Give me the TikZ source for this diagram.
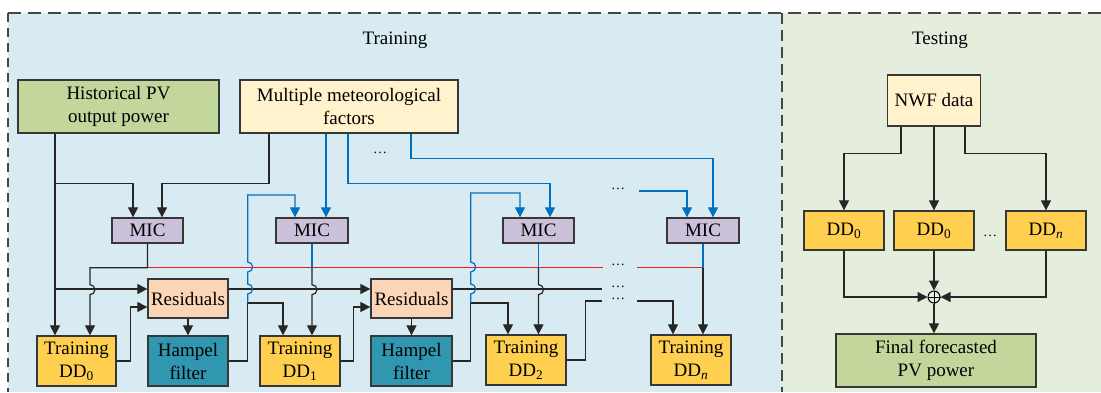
\documentclass[tikz,border=0pt]{standalone}
\usepackage{fontspec}
\setmainfont{Liberation Serif}
\usetikzlibrary{arrows.meta}

\definecolor{trainbg}{RGB}{217,235,242}
\definecolor{testbg}{RGB}{229,237,221}
\definecolor{histgreen}{RGB}{195,214,155}
\definecolor{metyellow}{RGB}{255,242,204}
\definecolor{micpurple}{RGB}{204,193,218}
\definecolor{respeach}{RGB}{251,213,181}
\definecolor{ddyellow}{RGB}{255,208,80}
\definecolor{hampelteal}{RGB}{49,151,177}
\definecolor{flowblue}{RGB}{0,112,192}
\definecolor{edgegray}{RGB}{55,55,55}
\definecolor{frame}{RGB}{70,70,70}
\definecolor{linkred}{RGB}{235,30,30}

\tikzset{
  box/.style={draw=edgegray, line width=1.3pt, inner sep=0pt, align=center,
              font=\fontsize{19}{23}\selectfont},
  con/.style={line width=1.2pt, draw=black!85},
  arr/.style={con, -{Triangle[width=10pt,length=10pt]}},
  blu/.style={draw=flowblue},
  redline/.style={line width=1.3pt, draw=linkred},
  dotsnode/.style={inner sep=0pt, font=\fontsize{14}{14}\selectfont},
  frameline/.style={draw=frame, line width=1.2pt, dash pattern=on 13pt off 7pt},
}
\newcommand{\sub}[1]{\textsubscript{#1}}

\begin{document}
\begin{tikzpicture}[x=1pt,y=1pt]
\useasboundingbox (0,0) rectangle (1101,-392);

% panels
\fill[trainbg] (8,-13) rectangle (782,-392);
\fill[testbg] (782,-13) rectangle (1101,-392);
\draw[frameline] (8,-13) -- (1101,-13);
\draw[frameline, dash pattern=on 9pt off 6pt] (8,-13) -- (8,-392);
\draw[frameline, dash pattern=on 11pt off 6pt] (782,-13) -- (782,-392);

\node[font=\fontsize{19}{23}\selectfont] (trtitle) at (395,-40) {Training};
\node[font=\fontsize{19}{23}\selectfont] (tetitle) at (940,-40) {Testing};

% ---------------- training nodes ----------------
\node[box, fill=histgreen, minimum width=201pt, minimum height=53pt] (hist) at (118.5,-106.5) {Historical PV\\output power};
\node[box, fill=metyellow, minimum width=218pt, minimum height=53pt] (met) at (349,-106.5) {Multiple meteorological\\factors};

\node[box, fill=micpurple, minimum width=71pt, minimum height=25pt] (mic1) at (147.5,-230.5) {MIC};
\node[box, fill=micpurple, minimum width=72pt, minimum height=25pt] (mic2) at (312,-230.5) {MIC};
\node[box, fill=micpurple, minimum width=71pt, minimum height=25pt] (mic3) at (538.5,-230.5) {MIC};
\node[box, fill=micpurple, minimum width=72pt, minimum height=25pt] (mic4) at (703,-230.5) {MIC};

\node[box, fill=respeach, minimum width=80pt, minimum height=39pt] (res1) at (188,-298.5) {Residuals};
\node[box, fill=respeach, minimum width=81pt, minimum height=39pt] (res2) at (411.5,-298.5) {Residuals};

\node[box, fill=ddyellow, minimum width=79pt, minimum height=50pt] (dd0) at (76.5,-361) {Training\\DD\sub{0}};
\node[box, fill=hampelteal, minimum width=80pt, minimum height=50pt] (ham1) at (188,-361) {Hampel\\filter};
\node[box, fill=ddyellow, minimum width=80pt, minimum height=50pt] (dd1) at (300,-361) {Training\\DD\sub{1}};
\node[box, fill=hampelteal, minimum width=81pt, minimum height=50pt] (ham2) at (411.5,-361) {Hampel\\filter};
\node[box, fill=ddyellow, minimum width=80pt, minimum height=50pt] (dd2) at (526,-360) {Training\\DD\sub{2}};
\node[box, fill=ddyellow, minimum width=80pt, minimum height=50pt] (ddn) at (691,-360) {Training\\DD\sub{\itshape n}};

% free ends around the elided stages
\coordinate (resout) at (602,-289);
\coordinate (d2out) at (602,-301);
\coordinate (dnin) at (637,-301);
\coordinate (m4in) at (639,-191);

% ---------------- training connectors ----------------
% historical power feeds
\draw[arr] ([xshift=-63.5pt]hist.south) -- ([xshift=-21.5pt]dd0.north);
\draw[arr] ([xshift=-63.5pt]hist.south) -- ++(0,-50) -| ([xshift=-14.5pt]mic1.north);
\draw[arr] ([xshift=-63.5pt]hist.south) |- ([yshift=9.5pt]res1.west);
% meteorological factors
\draw[arr] ([xshift=-80pt]met.south) -- ++(0,-50) -| ([xshift=14.5pt]mic1.north);
\draw[arr, blu] ([xshift=-23pt]met.south) -- ([xshift=14pt]mic2.north);
\draw[arr, blu] ([xshift=-1pt]met.south) -- ++(0,-50) -| ([xshift=11.5pt]mic3.north);
\draw[arr, blu] ([xshift=62pt]met.south) -- ++(0,-25) -| ([xshift=10pt]mic4.north);
\draw[arr, blu] (m4in) -| ([xshift=-16pt]mic4.north);

% stage 0
\draw[redline] (mic1.south) ++(0,-24) -- ++(455.5,0);
\draw[redline] (mic4.south) ++(0,-24) -- ++(-66,0);
\draw[arr] (mic1.south) -- ++(0,-24) -- ++(-57.5,0) -- ++(0,-17)
  arc[start angle=90, end angle=-90, radius=5pt] -- ([xshift=13.5pt]dd0.north);
\draw[arr] (dd0.east) -- ++(14,0) |- ([yshift=-8.5pt]res1.west);
\draw[arr] (res1.south) -- (ham1.north);
\draw[arr] ([yshift=9.5pt]res1.east) -- ([yshift=9.5pt]res2.west);

% stage 1
\draw[arr] (ham1.east) -- ++(19,0) -- ++(0,58) -| ([xshift=-17pt]dd1.north);
\draw[arr, blu] (ham1.east) ++(19,58) -- ++(0,9)
  arc[start angle=-90, end angle=90, radius=5pt] -- ++(0,12)
  arc[start angle=-90, end angle=90, radius=5pt] -- ++(0,67)
  -| ([xshift=-17pt]mic2.north);
\draw[con, blu] (mic2.south) -- ++(0,-24);
\draw[arr] (mic2.south) ++(0,-24) -- ++(0,-17)
  arc[start angle=90, end angle=-90, radius=5pt] -- ([xshift=12pt]dd1.north);
\draw[arr] (dd1.east) -- ++(13,0) |- ([yshift=-8.5pt]res2.west);
\draw[arr] (res2.south) -- (ham2.north);
\draw[con] ([yshift=9.5pt]res2.east) -- (resout);

% stage 2
\draw[arr] (ham2.east) -- ++(18,0) -- ++(0,58) -| ([xshift=-18pt]dd2.north);
\draw[arr, blu] (ham2.east) ++(18,58) -- ++(0,9)
  arc[start angle=-90, end angle=90, radius=5pt] -- ++(0,12)
  arc[start angle=-90, end angle=90, radius=5pt] -- ++(0,69)
  -| ([xshift=-18.5pt]mic3.north);
\draw[con, blu] (mic3.south) -- ++(0,-24);
\draw[arr] (mic3.south) ++(0,-24) -- ++(0,-17)
  arc[start angle=90, end angle=-90, radius=5pt] -- ([xshift=12.5pt]dd2.north);
\draw[con] (dd2.east) -- ++(19,0) |- (d2out);

% stage n
\draw[con, blu] (mic4.south) -- ++(0,-24);
\draw[arr] (mic4.south) ++(0,-24) -- ([xshift=12pt]ddn.north);
\draw[arr] (dnin) -| ([xshift=-18pt]ddn.north);

% ellipses
\node[dotsnode] (e1) at (380,-153) {\textellipsis};
\node[dotsnode] (e2) at (618,-189) {\textellipsis};
\node[dotsnode] (e3) at (618,-265) {\textellipsis};
\node[dotsnode] (e4) at (618,-287) {\textellipsis};
\node[dotsnode] (e5) at (618,-299) {\textellipsis};

% ---------------- testing ----------------
\node[box, fill=metyellow, minimum width=93pt, minimum height=51pt] (nwf) at (934,-100.5) {NWF data};
\node[box, fill=ddyellow, minimum width=80pt, minimum height=39pt] (t0) at (844,-230.5) {DD\sub{0}};
\node[box, fill=ddyellow, minimum width=80pt, minimum height=39pt] (t1) at (934,-230.5) {DD\sub{0}};
\node[box, fill=ddyellow, minimum width=80pt, minimum height=39pt] (tn) at (1046,-230.5) {DD\sub{\itshape n}};
\node[dotsnode] (e6) at (990,-236) {\textellipsis};
\node[circle, draw=black, line width=1pt, inner sep=0pt, minimum size=12pt] (plus) at (934,-297) {};
\draw[line width=0.9pt] (plus.north) -- (plus.south) (plus.west) -- (plus.east);
\node[box, fill=histgreen, minimum width=200pt, minimum height=53pt] (final) at (936,-360.5) {Final forecasted\\PV power};

\draw[arr] ([xshift=-33pt]nwf.south) -- ++(0,-27) -| (t0.north);
\draw[arr] (nwf.south) -- (t1.north);
\draw[arr] ([xshift=31pt]nwf.south) -- ++(0,-27) -| (tn.north);
\draw[arr] (t0.south) |- (plus.west);
\draw[arr] (t1.south) -- (plus.north);
\draw[arr] (tn.south) |- (plus.east);
\draw[arr] (plus.south) -- (plus.south |- final.north);
\end{tikzpicture}
\end{document}
